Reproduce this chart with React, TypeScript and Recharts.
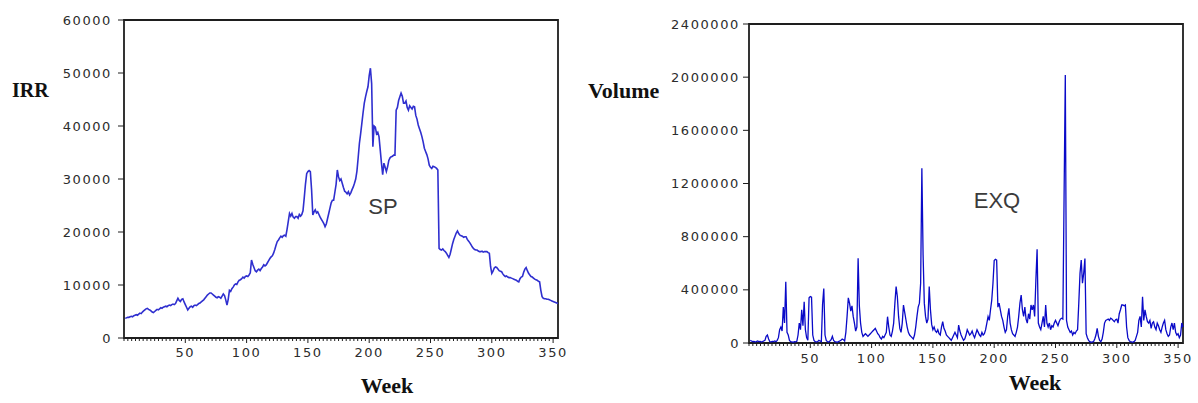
import { Line, LineChart, ReferenceArea, XAxis, YAxis } from "recharts";

// weekly SP price (IRR), weeks 1..354
const spWeekly = [
  3700, 3800, 3900, 3900, 4000, 4100, 4000, 4200, 4300, 4400,
  4300, 4500, 4700, 4600, 4900, 5100, 5300, 5500, 5600, 5400,
  5300, 5100, 4900, 4800, 5000, 5200, 5400, 5300, 5500, 5700,
  5600, 5800, 5900, 6000, 5900, 6100, 6200, 6100, 6300, 6400,
  6300, 6500, 7000, 7500, 7100, 6900, 7300, 7400, 6800, 6300,
  5800, 5300, 5600, 5900, 6000, 5800, 6100, 6200, 6100, 6300,
  6500, 6600, 6800, 7000, 7200, 7500, 7800, 8100, 8300, 8500,
  8500, 8300, 8100, 7900, 7700, 7600, 7800, 7700, 7500, 7900,
  8300, 8000, 7200, 6200, 7300, 9000, 8800, 9300, 9600, 10000,
  10200, 10100, 10600, 10900, 11000, 11200, 11500, 11300, 11600, 11700,
  11600, 11900, 12300, 14700, 13900, 13300, 12700, 12500, 12800, 13000,
  12700, 13100, 13400, 13800, 13600, 13800, 14200, 14600, 15000, 15300,
  15500, 16000, 16700, 17500, 18200, 18500, 18900, 19200, 19000, 19300,
  19400, 19200, 20500, 22000, 23500, 23000, 23500, 22800, 22600, 22900,
  22900, 22600, 23300, 23000, 23300, 24000, 26400, 29000, 31000, 31400,
  31600, 31400, 28000, 23200, 23800, 24200, 23600, 23800, 23300, 22800,
  22400, 22000, 21600, 21000, 21500, 22500, 23500, 24500, 25500, 26000,
  26000, 27500, 29000, 31700, 30400, 29700, 30000, 29200, 28400, 27700,
  27500, 27200, 27600, 27000, 27400, 28000, 28500, 29200, 30000, 31500,
  34000, 36700, 38500, 40500, 42500, 44300, 45500, 46500, 47400, 49500,
  50900, 48000, 36100, 40000, 39800, 38500, 38800, 38000, 35500, 33000,
  30800, 33000, 32200, 31400, 32300, 33500, 34000, 34200, 34300, 34500,
  34500, 43000, 43500, 44800, 45500, 46200, 45600, 44300, 44300, 44700,
  43500, 43000, 43800, 43500, 43200, 43700, 43600, 42000, 41300, 40200,
  39500, 38800, 38000, 37000, 35800, 35200, 34600, 33800, 32600, 32200,
  32000, 32400, 32300, 32200, 32000, 31700, 16900, 16700, 16600, 16800,
  16500, 16300, 16000, 15600, 15200, 15800, 16800, 17800, 18600, 19200,
  19800, 20200, 19700, 19400, 19300, 19200, 19000, 19100, 19100, 18600,
  18300, 18000, 17600, 17200, 16900, 16700, 16600, 16600, 16400, 16300,
  16300, 16400, 16200, 16300, 16300, 16300, 16100, 16000, 13500, 12200,
  12600, 13200, 13400, 13300, 13000, 12700, 12600, 12500, 12100, 11800,
  11600, 11700, 11500, 11400, 11400, 11300, 11200, 11100, 11000, 10900,
  10700, 10600, 11200, 11500, 11600, 12400, 13000, 13300, 12700, 12200,
  11900, 11600, 11500, 11300, 11100, 11000, 10900, 10700, 10600, 9000,
  7800, 7500, 7400, 7400, 7300, 7300, 7200, 7100, 7000, 6900,
  6800, 6700, 6600, 6500,
];

// weekly EXQ traded volume, weeks 1..354
const exqWeekly = [
  20000, 15000, 10000, 12000, 8000, 10000, 15000, 10000, 12000, 8000,
  10000, 15000, 20000, 50000, 60000, 30000, 10000, 8000, 12000, 10000,
  15000, 10000, 20000, 40000, 100000, 120000, 90000, 270000, 150000, 460000,
  80000, 60000, 20000, 10000, 8000, 5000, 10000, 8000, 12000, 60000,
  150000, 100000, 250000, 130000, 310000, 100000, 40000, 20000, 340000, 350000,
  345000, 60000, 20000, 10000, 8000, 10000, 20000, 15000, 10000, 290000,
  410000, 60000, 20000, 10000, 8000, 15000, 25000, 50000, 20000, 10000,
  8000, 5000, 10000, 15000, 20000, 30000, 25000, 15000, 80000, 200000,
  340000, 300000, 240000, 280000, 200000, 150000, 90000, 120000, 637000, 280000,
  150000, 80000, 50000, 60000, 70000, 60000, 50000, 60000, 70000, 80000,
  90000, 100000, 110000, 90000, 70000, 60000, 40000, 30000, 50000, 40000,
  60000, 80000, 198000, 120000, 60000, 50000, 90000, 150000, 300000, 424000,
  350000, 200000, 110000, 80000, 150000, 286000, 230000, 175000, 120000, 80000,
  60000, 50000, 40000, 30000, 60000, 120000, 200000, 270000, 300000, 450000,
  1314000, 662000, 300000, 200000, 150000, 180000, 424000, 250000, 140000, 100000,
  120000, 90000, 80000, 100000, 70000, 60000, 120000, 160000, 110000, 90000,
  60000, 50000, 40000, 30000, 20000, 40000, 60000, 80000, 60000, 40000,
  135000, 90000, 60000, 40000, 20000, 30000, 60000, 100000, 80000, 60000,
  70000, 90000, 60000, 40000, 70000, 100000, 80000, 60000, 50000, 80000,
  60000, 70000, 100000, 150000, 198000, 170000, 250000, 323000, 450000, 620000,
  630000, 624000, 270000, 300000, 250000, 200000, 170000, 120000, 80000, 100000,
  200000, 261000, 150000, 100000, 70000, 60000, 50000, 80000, 120000, 200000,
  300000, 361000, 250000, 200000, 270000, 180000, 150000, 220000, 180000, 286000,
  250000, 286000, 200000, 474000, 705000, 150000, 120000, 100000, 150000, 200000,
  120000, 286000, 150000, 120000, 150000, 100000, 130000, 120000, 150000, 170000,
  150000, 130000, 160000, 180000, 186000, 180000, 1100000, 2016000, 170000, 120000,
  100000, 80000, 90000, 60000, 80000, 70000, 90000, 100000, 300000, 524000,
  624000, 450000, 524000, 636000, 70000, 40000, 20000, 10000, 5000, 8000,
  10000, 30000, 60000, 110000, 50000, 20000, 10000, 30000, 80000, 150000,
  170000, 175000, 180000, 170000, 186000, 180000, 170000, 160000, 175000, 180000,
  150000, 220000, 250000, 286000, 286000, 280000, 286000, 120000, 40000, 20000,
  10000, 8000, 5000, 10000, 20000, 50000, 80000, 170000, 200000, 120000,
  348000, 170000, 250000, 200000, 160000, 150000, 170000, 110000, 150000, 160000,
  120000, 100000, 150000, 130000, 100000, 80000, 120000, 150000, 170000, 100000,
  70000, 50000, 60000, 120000, 150000, 100000, 150000, 80000, 60000, 70000,
  40000, 60000, 150000, 120000,
];

const weekLabels = [50, 100, 150, 200, 250, 300, 350];
const irrTicks = [0, 10000, 20000, 30000, 40000, 50000, 60000];
const volumeTicks = [0, 400000, 800000, 1200000, 1600000, 2000000, 2400000];

// small marks along the week axis, 16 per 50 weeks
const weekMarks = Array.from({ length: 113 }, (_, i) => i * 3.125);

const spData = spWeekly.map((v, i) => ({ week: i + 1, sp: v }));
const exqData = exqWeekly.map((v, i) => ({ week: i + 1, exq: v }));

const tickFont = {
  fontFamily: "DejaVu Sans",
  fontSize: 13,
  fill: "#2c2c2c",
  letterSpacing: 1.6,
};

const frame = "#1e1e1e";

const WeekTick = (props: any) => {
  const { x, y, payload, offset } = props;
  const major = payload.value > 0 && payload.value % 50 === 0;
  return (
    <g>
      <line x1={x} x2={x} y1={y} y2={y + (major ? 5 : 3)} stroke={frame} strokeWidth={1} />
      {major && weekLabels.includes(payload.value) && (
        <text x={x} y={y + offset} dy="0.355em" textAnchor="middle" {...tickFont}>
          {payload.value}
        </text>
      )}
    </g>
  );
};

const ValueTick = (props: any) => {
  const { x, y, payload } = props;
  return (
    <text x={x} y={y} dy="0.355em" textAnchor="end" {...tickFont}>
      {String(payload.value)}
    </text>
  );
};

const axisTitle = {
  position: "absolute" as const,
  fontFamily: "Liberation Serif",
  fontWeight: 700,
  lineHeight: 1,
  color: "#111",
  whiteSpace: "nowrap" as const,
};

const seriesName = {
  position: "absolute" as const,
  fontFamily: "Liberation Sans",
  fontSize: 22,
  lineHeight: 1,
  color: "#3b3b3b",
  transform: "translate(-50%, -50%)",
};

export default function App() {
  return (
    <div style={{ position: "absolute", left: 0, top: 0, width: 1198, height: 403, background: "#fff" }}>
      <div style={{ position: "absolute", left: 0, top: 0 }}>
        <LineChart width={600} height={403} data={spData} margin={{ top: 20, right: 42, bottom: 35, left: 64 }}>
          <XAxis
            type="number"
            dataKey="week"
            domain={[0, 354]}
            ticks={weekMarks}
            interval={0}
            axisLine={false}
            tickLine={false}
            tickSize={0}
            tickMargin={0}
            height={30}
            tick={(p: any) => <WeekTick {...p} offset={14} />}
          />
          <YAxis
            type="number"
            domain={[0, 60000]}
            ticks={irrTicks}
            interval={0}
            width={60}
            axisLine={false}
            tickLine={{ stroke: frame }}
            tickSize={6}
            tickMargin={6}
            tick={<ValueTick />}
          />
          <ReferenceArea x1={0} x2={354} y1={0} y2={60000} fill="none" stroke={frame} strokeWidth={1.8} />
          <Line
            dataKey="sp"
            type="linear"
            stroke="#2f2fcf"
            strokeWidth={1.6}
            dot={false}
            isAnimationActive={false}
          />
        </LineChart>
      </div>
      <div style={{ position: "absolute", left: 600, top: 0 }}>
        <LineChart width={598} height={403} data={exqData} margin={{ top: 24, right: 15, bottom: 30, left: 74 }}>
          <XAxis
            type="number"
            dataKey="week"
            domain={[0, 354]}
            ticks={weekMarks}
            interval={0}
            axisLine={false}
            tickLine={false}
            tickSize={0}
            tickMargin={0}
            height={30}
            tick={(p: any) => <WeekTick {...p} offset={15} />}
          />
          <YAxis
            type="number"
            domain={[0, 2400000]}
            ticks={volumeTicks}
            interval={0}
            width={75}
            axisLine={false}
            tickLine={{ stroke: frame }}
            tickSize={6}
            tickMargin={3}
            tick={<ValueTick />}
          />
          <ReferenceArea x1={0} x2={354} y1={0} y2={2400000} fill="none" stroke={frame} strokeWidth={1.8} />
          <Line
            dataKey="exq"
            type="linear"
            stroke="#0a0ac8"
            strokeWidth={1.3}
            dot={false}
            isAnimationActive={false}
          />
        </LineChart>
      </div>

      <div style={{ ...axisTitle, left: 12, top: 80, fontSize: 20 }}>IRR</div>
      <div style={{ ...axisTitle, left: 588, top: 80, fontSize: 22 }}>Volume</div>
      <div style={{ ...axisTitle, left: 387, top: 375, fontSize: 22, transform: "translateX(-50%)" }}>Week</div>
      <div style={{ ...axisTitle, left: 1035, top: 372, fontSize: 22, transform: "translateX(-50%)" }}>Week</div>

      <div style={{ ...seriesName, left: 383, top: 207 }}>SP</div>
      <div style={{ ...seriesName, left: 997, top: 201 }}>EXQ</div>
    </div>
  );
}
